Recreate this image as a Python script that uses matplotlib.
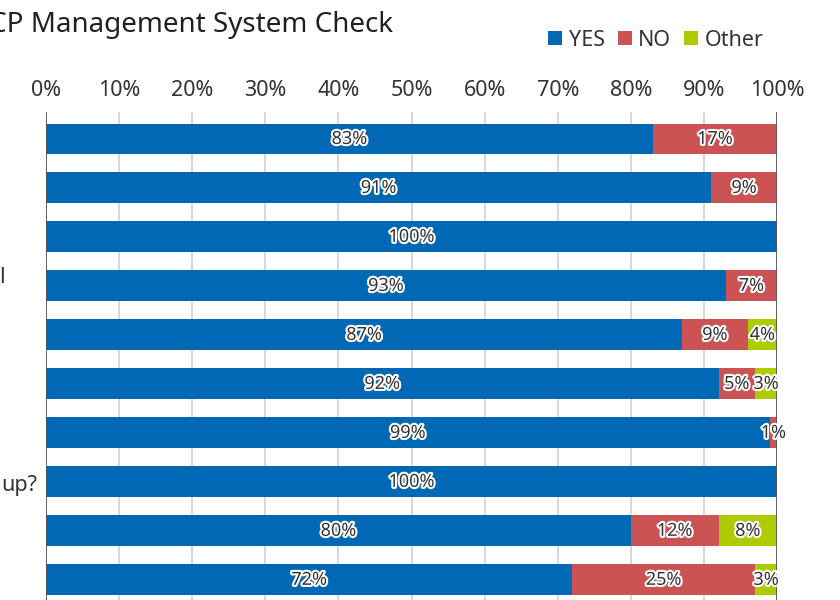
"""HACCP management system check: stacked 100% horizontal bars."""
import matplotlib
matplotlib.use("Agg")
import matplotlib.pyplot as plt  # noqa: E402
import matplotlib.patheffects as pe  # noqa: E402
from matplotlib.transforms import blended_transform_factory  # noqa: E402
import numpy as np  # noqa: E402

plt.rcParams["font.family"] = ["Noto Sans", "DejaVu Sans"]

title = "HACCP Management System Check"
series = ["YES", "NO", "Other"]
colors = ["#0068B4", "#CC5353", "#AECB00"]
yes = [83, 91, 100, 93, 87, 92, 99, 100, 80, 72]
no = [17, 9, 0, 7, 9, 5, 1, 0, 12, 25]
other = [0, 0, 0, 0, 4, 3, 0, 0, 8, 3]
# only the tail ends of the question labels are visible in the picture
question_tails = {3: "l", 7: "up?"}
ticks = [0, 10, 20, 30, 40, 50, 60, 70, 80, 90, 100]

W, H = 840, 600
fig = plt.figure(figsize=(W / 100, H / 100), dpi=100)
ax = fig.add_axes([46 / W, 1 - 620 / H, 731 / W, 508 / H])

y = np.arange(len(yes))
left = np.zeros(len(yes))
txt = "#333333"
stroke = [pe.withStroke(linewidth=3, foreground="white")]
for name, vals, c in zip(series, [yes, no, other], colors):
    vals = np.array(vals, dtype=float)
    ax.barh(y, vals, left=left, height=0.63, color=c, label=name, zorder=2)
    for yi, (l, v) in enumerate(zip(left, vals)):
        if v > 0:
            ax.text(l + v / 2, yi, f"{v:.0f}%", ha="center", va="center",
                    fontsize=13, color=txt, path_effects=stroke, zorder=4)
    left += vals

ax.set_xlim(0, 100)
ax.set_ylim(9.82, -0.55)
ax.set_xticks(ticks)
ax.set_xticklabels([f"{t}%" for t in ticks], fontsize=15.5, color=txt)
ax.xaxis.tick_top()
ax.tick_params(axis="x", length=0, pad=8)
ax.set_yticks([])
for t in ticks:
    edge = t in (0, 100)
    ax.axvline(t, color="#555555" if edge else "#d9d9d9",
               lw=1.3 if edge else 1.5, zorder=1 if not edge else 3)
for s in ax.spines.values():
    s.set_visible(False)

tr = blended_transform_factory(fig.transFigure, ax.transData)
ax.text(5 / W, 3 - 0.18, question_tails[3], transform=tr, ha="right",
        va="center", fontsize=15.5, color=txt)
ax.text(37 / W, 7 + 0.08, question_tails[7], transform=tr, ha="right",
        va="center", fontsize=15.5, color=txt)

fig.text(393 / W, 1 - 25 / H, title, ha="right", va="center",
         fontsize=20, color="#231f20")
fig.legend(loc="center right", bbox_to_anchor=(772 / W, 1 - 40 / H), ncol=3,
           frameon=False, fontsize=15.5, handlelength=0.65, handleheight=0.65,
           handletextpad=0.3, columnspacing=0.6, borderaxespad=0,
           labelcolor=txt)

fig.savefig("out.png", dpi=100)
